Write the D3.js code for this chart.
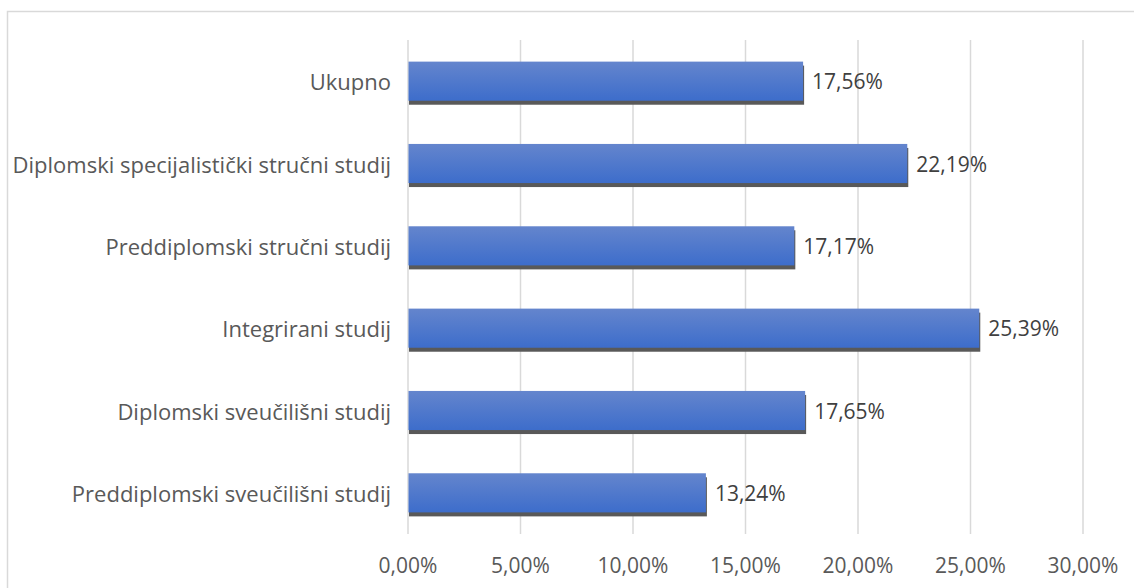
<!DOCTYPE html>
<html>
<head>
<meta charset="utf-8">
<script src="https://cdn.jsdelivr.net/npm/d3@7"></script>
<style>
  html, body { margin: 0; padding: 0; background: #fff; }
  svg { display: block; }
  text { font-family: "Open Sans", sans-serif; }
</style>
</head>
<body>
<svg id="chart" width="1134" height="588"></svg>
<script>
const categories = [
  "Ukupno",
  "Diplomski specijalistički stručni studij",
  "Preddiplomski stručni studij",
  "Integrirani studij",
  "Diplomski sveučilišni studij",
  "Preddiplomski sveučilišni studij"
];
const values = [17.56, 22.19, 17.17, 25.39, 17.65, 13.24];
const tickValues = [0, 5, 10, 15, 20, 25, 30];

const fmt = v => v.toFixed(2).replace(".", ",") + "%";

const svg = d3.select("#chart");
const W = 1134, H = 588;

// chart frame
svg.append("rect")
  .attr("x", 7.5).attr("y", 11.5)
  .attr("width", W + 10).attr("height", H + 10)
  .attr("fill", "#fff").attr("stroke", "#d9d9d9").attr("stroke-width", 1.5);

const x = d3.scaleLinear().domain([0, 30]).range([408, 1083]);
const y = d3.scaleBand().domain(categories).range([40, 534]).paddingInner(0.525).paddingOuter(0.2625);

const defs = svg.append("defs");
const grad = defs.append("linearGradient").attr("id", "barGrad")
  .attr("x1", 0).attr("y1", 0).attr("x2", 0).attr("y2", 1);
grad.append("stop").attr("offset", "0%").attr("stop-color", "#6485cd");
grad.append("stop").attr("offset", "100%").attr("stop-color", "#3d6dcb");

// gridlines
svg.append("g").selectAll("line").data(tickValues).join("line")
  .attr("x1", d => x(d)).attr("x2", d => x(d))
  .attr("y1", 40).attr("y2", 534)
  .attr("stroke", "#d9d9d9").attr("stroke-width", 1.5);

// tick labels
svg.append("g").selectAll("text").data(tickValues).join("text")
  .attr("x", d => x(d)).attr("y", 565)
  .attr("text-anchor", "middle").attr("dominant-baseline", "central")
  .attr("font-size", 21).attr("fill", "#595959")
  .text(d => fmt(d));

// bars
const data = categories.map((c, i) => ({ c, v: values[i] }));
const bh = y.bandwidth();

// shadow
svg.append("g").selectAll("rect").data(data).join("rect")
  .attr("x", x(0) + 1).attr("y", d => y(d.c) + 4)
  .attr("width", d => x(d.v) - x(0))
  .attr("height", bh)
  .attr("fill", "#595959");

svg.append("g").selectAll("rect").data(data).join("rect")
  .attr("x", x(0) + 0.5).attr("y", d => y(d.c))
  .attr("width", d => x(d.v) - x(0) - 0.5)
  .attr("height", bh)
  .attr("fill", "url(#barGrad)");

// value labels
svg.append("g").selectAll("text").data(data).join("text")
  .attr("x", d => x(d.v) + 9).attr("y", d => y(d.c) + bh / 2)
  .attr("dominant-baseline", "central")
  .attr("font-size", 21).attr("fill", "#404040")
  .text(d => fmt(d.v));

// category labels
svg.append("g").selectAll("text").data(data).join("text")
  .attr("x", 391).attr("y", d => y(d.c) + bh / 2)
  .attr("text-anchor", "end").attr("dominant-baseline", "central")
  .attr("font-size", 22).attr("fill", "#595959")
  .text(d => d.c);
</script>
</body>
</html>
